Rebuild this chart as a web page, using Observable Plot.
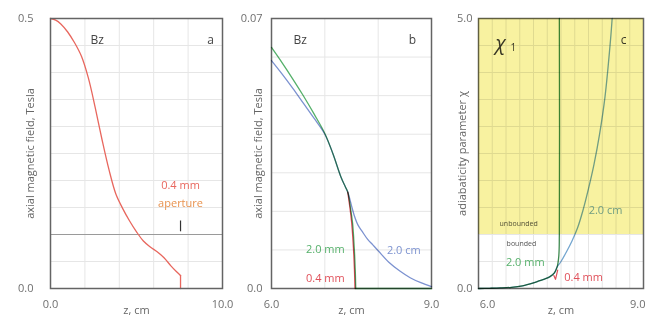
<!DOCTYPE html>
<html><head><meta charset="utf-8">
<script src="https://cdn.jsdelivr.net/npm/d3@7"></script>
<script src="https://cdn.jsdelivr.net/npm/@observablehq/plot@0.6"></script>
<style>
body{margin:0;background:#fff;}
#wrap{position:relative;width:645px;height:323px;overflow:hidden;}
#wrap svg{position:absolute;left:0;top:0;}
</style></head><body><div id="wrap"></div>
<script>
// ---------- Panel a: Bz along axis, 0.4 mm aperture ----------
const zA  = [0, 0.3, 0.6, 1.0, 1.4, 1.8, 2.2, 2.6, 3.0, 3.4, 3.8, 4.2, 4.6, 5.0, 5.4, 5.8, 6.2, 6.6, 7.0, 7.3, 7.56, 7.56];
const bzA = [0.5, 0.497, 0.49, 0.475, 0.455, 0.43, 0.39, 0.335, 0.275, 0.22, 0.175, 0.148, 0.125, 0.105, 0.088, 0.077, 0.068, 0.057, 0.042, 0.032, 0.024, 0];
const apertureZ = [7.56];
const apertureMark = [0.105, 0.125];
const refLineA = [0.1];
const xTicksA = [0, 10], xTickLabelsA = ["0.0", "10.0"];
const yTicksA = [0, 0.5], yTickLabelsA = ["0.0", "0.5"];

// ---------- Panel b: Bz, 6-9 cm ----------
const zBg = [6.0, 6.2, 6.4, 6.6, 6.8, 7.0, 7.15, 7.3, 7.38, 7.43, 7.48, 7.52, 7.55, 7.57, 7.58, 9.0];
const bBg = [0.0625, 0.0585, 0.0543, 0.0499, 0.0452, 0.0402, 0.0350, 0.0290, 0.0265, 0.0250, 0.0210, 0.0170, 0.0110, 0.0050, 0, 0];
const zBb = [6.0, 6.2, 6.4, 6.6, 6.8, 7.0, 7.15, 7.3, 7.38, 7.43, 7.5, 7.55, 7.62, 7.7, 7.8, 7.9, 8.0, 8.2, 8.4, 8.6, 8.8, 9.0];
const bBb = [0.0591, 0.0556, 0.0519, 0.0480, 0.0441, 0.0400, 0.0350, 0.0290, 0.0265, 0.0250, 0.0215, 0.0190, 0.0165, 0.0148, 0.0128, 0.0113, 0.0098, 0.0068, 0.0046, 0.0028, 0.0015, 0.0005];
const zBr = [7.43, 7.47, 7.50, 7.53, 7.555, 7.565];
const bBr = [0.0250, 0.0210, 0.0175, 0.0120, 0.0050, 0];
const xTicksB = [6, 9], xTickLabelsB = ["6.0", "9.0"];
const yTicksB = [0, 0.07], yTickLabelsB = ["0.0", "0.07"];

// ---------- Panel c: adiabaticity parameter ----------
const zCg = [6.0, 6.2, 6.4, 6.6, 6.8, 7.0, 7.1, 7.2, 7.3, 7.38, 7.43, 7.46, 7.47, 7.47];
const cCg = [0.0, 0.004, 0.01, 0.022, 0.05, 0.105, 0.14, 0.175, 0.22, 0.29, 0.4, 0.6, 1.0, 5.0];
const zCb = [6.0, 6.2, 6.4, 6.6, 6.8, 7.0, 7.1, 7.2, 7.3, 7.38, 7.43, 7.5, 7.6, 7.7, 7.8, 7.9, 8.0, 8.1, 8.2, 8.3, 8.4, 8.43];
const cCb = [0.0, 0.004, 0.01, 0.022, 0.05, 0.105, 0.14, 0.175, 0.22, 0.29, 0.4, 0.5, 0.68, 0.88, 1.12, 1.45, 1.85, 2.3, 2.85, 3.55, 4.6, 5.0];
const zCr = [7.37, 7.40, 7.44];
const cCr = [0.24, 0.17, 0.34];
const unboundedRange = [1.0, 5.0];
const xTicksC = [6, 9], xTickLabelsC = ["6.0", "9.0"];
const yTicksC = [0, 5], yTickLabelsC = ["0.0", "5.0"];

const toPts = (xs, ys) => xs.map((x, i) => ({x, y: ys[i]}));
const lab = (ticks, labels) => { const m = new Map(ticks.map((t, i) => [t, labels[i]])); return d => m.get(d); };
const range = (a, b, s) => d3.range(Math.round((b - a) / s) + 1).map(i => +(a + i * s).toFixed(6));

const FONT = "'Open Sans', 'DejaVu Sans', sans-serif";
const TICK = "#6f6f6f";
const FRAME = "#646464";
const GRID = "#e6e6e6";
const common = {
  width: 645, height: 323, marginTop: 18, marginBottom: 35,
  style: {background: "transparent", fontFamily: FONT, fontSize: "11px", overflow: "visible"}
};
const wrap = document.getElementById("wrap");
const ptsA = toPts(zA, bzA);
const ptsBg = toPts(zBg, bBg);

// Panel a
wrap.appendChild(Plot.plot({
  ...common, marginLeft: 50, marginRight: 645 - 222,
  x: {domain: [0, 10]}, y: {domain: [0, 0.5]},
  marks: [
    Plot.ruleX(range(2, 8, 2), {stroke: GRID}),
    Plot.ruleY(range(0.05, 0.45, 0.05), {stroke: GRID}),
    Plot.ruleY(refLineA, {stroke: "#9a9a9a", strokeWidth: 1}),
    Plot.line(ptsA.slice(0, -1), {x: "x", y: "y", stroke: "#e8675e", strokeWidth: 1.3, curve: "catmull-rom"}),
    Plot.line(ptsA.slice(-2), {x: "x", y: "y", stroke: "#e8675e", strokeWidth: 1.3}),
    Plot.ruleX(apertureZ, {y1: apertureMark[0], y2: apertureMark[1], stroke: "#333", strokeWidth: 1.2}),
    Plot.text(["0.4 mm"], {x: apertureZ[0], y: 0.19, fill: "#e8675e", fontSize: 11}),
    Plot.text(["aperture"], {x: apertureZ[0], y: 0.157, fill: "#e8924e", fontSize: 11}),
    Plot.frame({stroke: FRAME, strokeWidth: 1.5}),
    Plot.text(["Bz"], {frameAnchor: "top-left", dx: 40, dy: 17, textAnchor: "start", fill: "#444", fontSize: 12}),
    Plot.text(["a"], {frameAnchor: "top-right", dx: -12, dy: 17, textAnchor: "middle", fill: "#444", fontSize: 12}),
    Plot.axisX({ticks: xTicksA, tickFormat: lab(xTicksA, xTickLabelsA), tickSize: 0, tickPadding: 12, fill: TICK, label: null}),
    Plot.axisY({ticks: yTicksA, tickFormat: lab(yTicksA, yTickLabelsA), tickSize: 0, tickPadding: 17, fill: TICK, label: null}),
    Plot.text(["axial magnetic field, Tesla"], {frameAnchor: "left", textAnchor: "middle", rotate: -90, dx: -20, fill: "#666", fontSize: 11}),
    Plot.text(["z, cm"], {frameAnchor: "bottom", dy: 25, fill: "#666", fontSize: 11})
  ]
}));

// Panel b
wrap.appendChild(Plot.plot({
  ...common, marginLeft: 271, marginRight: 645 - 431,
  x: {domain: [6, 9]}, y: {domain: [0, 0.07]},
  marks: [
    Plot.ruleX([7, 8], {stroke: GRID}),
    Plot.ruleY(range(0.01, 0.06, 0.01), {stroke: GRID}),
    Plot.frame({stroke: FRAME, strokeWidth: 1.5}),
    Plot.line(toPts(zBb, bBb), {x: "x", y: "y", stroke: "#7c92d0", strokeWidth: 1.3, curve: "catmull-rom", mixBlendMode: "multiply"}),
    Plot.line(ptsBg.slice(0, -1), {x: "x", y: "y", stroke: "#55b06a", strokeWidth: 1.3, curve: "catmull-rom", mixBlendMode: "multiply"}),
    Plot.line(ptsBg.slice(-2), {x: "x", y: "y", stroke: "#55b06a", strokeWidth: 1.3, mixBlendMode: "multiply"}),
    Plot.line(toPts(zBr, bBr), {x: "x", y: "y", stroke: "#e0505a", strokeWidth: 1.3, curve: "catmull-rom", mixBlendMode: "multiply"}),
    Plot.text(["2.0 mm"], {x: 7.01, y: 0.0101, fill: "#55b06a", fontSize: 11}),
    Plot.text(["0.4 mm"], {x: 7.01, y: 0.0026, fill: "#e0505a", fontSize: 11}),
    Plot.text(["2.0 cm"], {x: 8.48, y: 0.0099, fill: "#7c92d0", fontSize: 11}),
    Plot.text(["Bz"], {frameAnchor: "top-left", dx: 22, dy: 17, textAnchor: "start", fill: "#444", fontSize: 12}),
    Plot.text(["b"], {frameAnchor: "top-right", dx: -19, dy: 17, textAnchor: "middle", fill: "#444", fontSize: 12}),
    Plot.axisX({ticks: xTicksB, tickFormat: lab(xTicksB, xTickLabelsB), tickSize: 0, tickPadding: 12, fill: TICK, label: null}),
    Plot.axisY({ticks: yTicksB, tickFormat: lab(yTicksB, yTickLabelsB), tickSize: 0, tickPadding: 9, fill: TICK, label: null}),
    Plot.text(["axial magnetic field, Tesla"], {frameAnchor: "left", textAnchor: "middle", rotate: -90, dx: -13, fill: "#666", fontSize: 11}),
    Plot.text(["z, cm"], {frameAnchor: "bottom", dy: 25, fill: "#666", fontSize: 11})
  ]
}));

// Panel c
wrap.appendChild(Plot.plot({
  ...common, marginLeft: 478, marginRight: 2,
  x: {domain: [6, 9]}, y: {domain: [0, 5]},
  marks: [
    Plot.ruleX(range(6.25, 8.75, 0.25), {stroke: GRID}),
    Plot.ruleY(range(0.5, 4.5, 0.5), {stroke: GRID}),
    Plot.frame({stroke: FRAME, strokeWidth: 1.5}),
    Plot.line(toPts(zCb, cCb), {x: "x", y: "y", stroke: "#74a6cf", strokeWidth: 1.3, curve: "catmull-rom", mixBlendMode: "multiply"}),
    Plot.line(toPts(zCg, cCg), {x: "x", y: "y", stroke: "#3e8a50", strokeWidth: 1.3, curve: "catmull-rom", mixBlendMode: "multiply"}),
    Plot.line(toPts(zCr, cCr), {x: "x", y: "y", stroke: "#e0505a", strokeWidth: 1.2, mixBlendMode: "multiply"}),
    Plot.text(["unbounded"], {x: 6.73, y: 1.2, fill: "#555", fontSize: 7}),
    Plot.text(["bounded"], {x: 6.78, y: 0.83, fill: "#555", fontSize: 7}),
    Plot.text(["2.0 mm"], {x: 6.85, y: 0.48, fill: "#55b06a", fontSize: 11}),
    Plot.text(["0.4 mm"], {x: 7.91, y: 0.2, fill: "#e0505a", fontSize: 11}),
    Plot.text(["2.0 cm"], {x: 8.31, y: 1.44, fill: "#74a6cf", fontSize: 11}),
    Plot.text(["χ"], {frameAnchor: "top-left", dx: 17, dy: 17, textAnchor: "start", fill: "#3a3a3a", fontSize: 20, fontStyle: "italic"}),
    Plot.text(["1"], {frameAnchor: "top-left", dx: 32, dy: 25, textAnchor: "start", fill: "#3a3a3a", fontSize: 10}),
    Plot.text(["c"], {frameAnchor: "top-right", dx: -20, dy: 17, textAnchor: "middle", fill: "#3a3a3a", fontSize: 12}),
    Plot.rect([{x1: 6, x2: 9, y1: unboundedRange[0], y2: unboundedRange[1]}], {x1: "x1", x2: "x2", y1: "y1", y2: "y2", fill: "#f8f2a0", mixBlendMode: "multiply"}),
    Plot.axisX({ticks: [xTicksC[0]], tickFormat: lab(xTicksC, xTickLabelsC), tickSize: 0, tickPadding: 12, dx: 9, fill: TICK, label: null}),
    Plot.axisX({ticks: [xTicksC[1]], tickFormat: lab(xTicksC, xTickLabelsC), tickSize: 0, tickPadding: 12, textAnchor: "end", dx: 2, fill: TICK, label: null}),
    Plot.axisY({ticks: yTicksC, tickFormat: lab(yTicksC, yTickLabelsC), tickSize: 0, tickPadding: 6, fill: TICK, label: null}),
    Plot.text(["adiabaticity parameter χ"], {frameAnchor: "left", textAnchor: "middle", rotate: -90, dx: -16, fill: "#666", fontSize: 11}),
    Plot.text(["z, cm"], {frameAnchor: "bottom", dy: 25, fill: "#666", fontSize: 11})
  ]
}));
</script></body></html>
